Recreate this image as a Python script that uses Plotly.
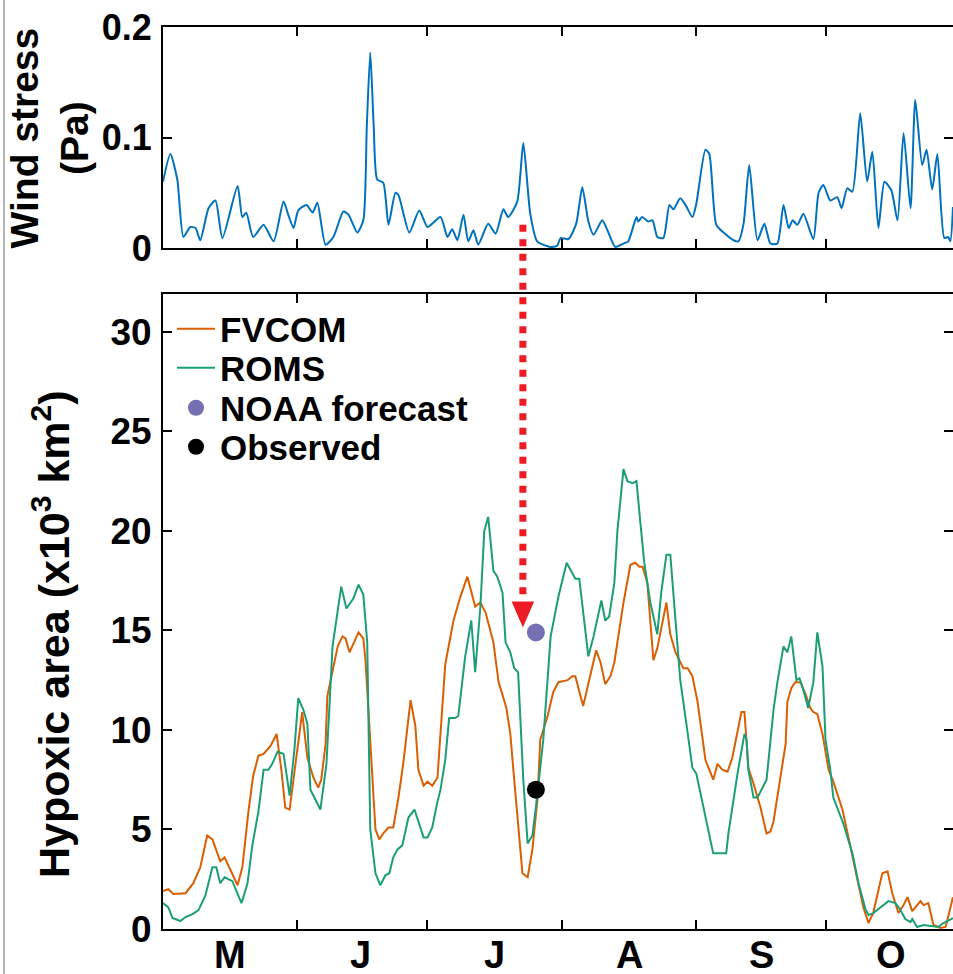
import plotly.graph_objects as go

# ---------------- data (day 0 = 1 May) ----------------
month_start_days = [31, 61, 92, 123, 153]
month_mid_days = [15.5, 45.5, 76.5, 107.5, 138, 168]
month_labels = ["M", "J", "J", "A", "S", "O"]

wind_day = [0, 1.7, 3.3, 4.7, 6.3, 7.5, 8.6, 10.5, 12.1, 13.7, 17.2, 18.3, 19.2, 20.8, 23.2,
            25.5, 27.8, 28.9, 30.1, 31.2, 33.1, 34.5, 35.6, 37.5, 39.3, 41.6, 42.8, 44.8, 46.2,
            47.0, 47.8, 48.6, 49.4, 50.8, 52.0, 53.6, 54.3, 56.8, 59.1, 61.0, 64.0, 65.6, 66.7,
            67.9, 69.3, 70.4, 71.6, 72.7, 75.0, 76.7, 78.5, 79.6, 81.7, 83.1, 84.7, 86.3, 89.3,
            90.9, 91.7, 93.5, 95.3, 96.7, 98.1, 99.3, 101.3, 102.5, 104.3, 106.2, 107.3, 109.2,
            109.6, 110.5, 111.9, 112.9, 114.0, 115.4, 116.8, 117.7, 119.3, 120.5, 122.1, 123.0,
            125.1, 126.0, 127.6, 129.3, 131.6, 132.7, 133.9, 135.2, 137.1, 138.7, 140.1, 141.7,
            143.1, 144.3, 145.2, 146.3, 147.7, 150.0, 151.2, 152.3, 153.9, 155.5, 156.5, 157.8,
            159.0, 160.8, 162.4, 163.6, 165.0, 166.4, 168.0, 169.4, 170.8, 172.4, 173.5, 175.1,
            176.1, 177.4, 178.6, 180.2, 181.1, 181.6, 182.2]
wind_stress = [0.060, 0.085, 0.062, 0.010, 0.019, 0.018, 0.007, 0.036, 0.043, 0.009, 0.056, 0.028,
               0.032, 0.010, 0.021, 0.006, 0.042, 0.030, 0.018, 0.034, 0.039, 0.032, 0.041, 0.003,
               0.010, 0.033, 0.030, 0.014, 0.025, 0.110, 0.177, 0.110, 0.062, 0.059, 0.021, 0.050,
               0.048, 0.014, 0.034, 0.019, 0.028, 0.010, 0.017, 0.007, 0.030, 0.006, 0.016, 0.003,
               0.022, 0.013, 0.035, 0.028, 0.042, 0.095, 0.031, 0.006, 0.001, 0.002, 0.009, 0.008,
               0.022, 0.055, 0.024, 0.012, 0.025, 0.016, 0.001, 0.004, 0.006, 0.028, 0.024, 0.028,
               0.024, 0.025, 0.010, 0.009, 0.039, 0.035, 0.045, 0.039, 0.028, 0.040, 0.089, 0.085,
               0.021, 0.014, 0.007, 0.006, 0.022, 0.075, 0.007, 0.022, 0.004, 0.004, 0.039, 0.018,
               0.025, 0.021, 0.031, 0.008, 0.050, 0.057, 0.043, 0.046, 0.036, 0.054, 0.051, 0.122,
               0.060, 0.087, 0.018, 0.060, 0.052, 0.025, 0.104, 0.036, 0.134, 0.075, 0.089, 0.053,
               0.085, 0.009, 0.010, 0.006, 0.037]

fvcom_day = [0, 1.2, 2.4, 4.0, 5.2, 7.0, 8.6, 10.2, 11.4, 13.2, 14.2, 17.2, 18.3, 19.7, 20.8, 22.0,
             23.2, 24.8, 26.2, 27.3, 28.2, 29.2, 32.1, 33.3, 34.7, 35.8, 36.5, 37.5, 37.9, 40.3,
             41.4, 42.1, 43.0, 45.1, 46.2, 46.7, 49.0, 49.9, 50.8, 52.0, 53.1, 54.3, 55.4, 57.1,
             58.2, 58.9, 60.1, 61.0, 62.1, 63.3, 65.1, 67.0, 68.6, 70.2, 72.0, 73.2, 74.4, 76.2,
             77.4, 79.2, 80.1, 80.8, 82.9, 84.1, 85.2, 86.4, 87.0, 88.7, 90.0, 91.2, 93.3, 94.4,
             95.1, 96.9, 99.9, 100.9, 102.0, 103.2, 104.1, 106.2, 107.8, 108.9, 109.9, 110.6,
             111.7, 113.1, 114.0, 116.1, 117.0, 118.2, 120.0, 121.0, 122.1, 123.3, 124.4, 125.1,
             126.9, 127.9, 129.0, 130.2, 131.3, 132.5, 133.4, 134.1, 135.0, 136.2, 137.8, 139.2,
             140.1, 140.8, 142.4, 143.6, 144.0, 144.9, 145.8, 147.0, 148.2, 149.3, 150.0, 150.9,
             152.1, 153.5, 154.6, 156.7, 158.1, 159.7, 161.5, 162.7, 163.8, 165.9, 167.1, 168.2,
             169.6, 170.8, 171.7, 172.8, 174.7, 175.4, 176.5, 177.7, 179.3, 180.5, 181.6, 182.2]
fvcom_area = [1.9, 2.0, 1.76, 1.8, 1.8, 2.3, 3.1, 4.7, 4.5, 3.4, 3.6, 2.2, 3.1, 5.9, 7.7, 8.7,
              8.8, 9.2, 9.8, 8.0, 6.1, 6.0, 10.9, 8.6, 7.6, 7.1, 7.5, 9.3, 11.7, 14.2,
              14.7, 14.6, 13.9, 14.9, 14.6, 13.5, 5.0, 4.5, 4.8, 5.1, 5.1, 6.6, 8.3, 11.5,
              10.2, 8.0, 7.2, 7.4, 7.2, 7.6, 13.3, 15.5, 16.7, 17.7, 16.2, 16.4, 15.9, 14.4,
              12.4, 11.1, 9.8, 8.0, 2.8, 2.6, 4.0, 6.6, 9.5, 10.7, 11.9, 12.4, 12.5, 12.7,
              12.7, 11.2, 14.0, 13.4, 12.3, 12.7, 13.4, 16.4, 18.3, 18.4, 18.2, 18.2,
              17.4, 13.5, 14.1, 16.4, 14.8, 13.9, 13.1, 13.1, 12.7, 11.4, 9.5, 8.5,
              7.5, 8.3, 8.0, 7.9, 8.6, 10.0, 10.9, 10.9, 8.1, 7.3, 6.1, 4.8,
              4.9, 5.4, 7.5, 9.3, 11.4, 12.1, 12.4, 12.4, 11.8, 11.1, 10.9, 10.8,
              9.8, 8.0, 7.4, 6.0, 4.6, 3.0, 1.1, 0.3, 0.8, 2.8, 2.9, 1.8,
              0.8, 1.2, 1.6, 0.9, 1.4, 1.2, 1.3, 0.2, 0.05, 0.1, 1.0, 1.6]

roms_day = [0, 1.2, 2.2, 4.0, 5.2, 6.8, 8.2, 9.8, 11.4, 12.3, 13.2, 14.2, 16.0, 18.1, 19.5, 20.6,
            22.0, 23.2, 24.3, 25.2, 26.4, 27.8, 29.2, 30.3, 31.2, 32.4, 33.3, 34.0, 36.3, 37.7,
            39.1, 40.2, 41.1, 42.3, 43.9, 45.1, 46.2, 47.1, 47.8, 49.0, 50.1, 51.3, 52.2, 53.1,
            54.1, 55.2, 56.6, 58.0, 58.9, 60.1, 61.0, 62.1, 63.3, 64.0, 65.1, 66.0, 67.4, 68.1,
            69.7, 71.1, 72.0, 73.2, 74.1, 75.0, 76.2, 77.1, 78.3, 79.0, 80.1, 81.0, 81.9, 83.1,
            84.1, 85.2, 86.1, 87.7, 89.4, 91.2, 93.1, 95.1, 96.0, 98.1, 99.3, 101.1, 102.0, 102.9,
            104.1, 104.8, 106.2, 107.1, 108.3, 109.2, 110.1, 111.0, 112.4, 114.0, 114.9, 116.1,
            117.0, 118.2, 119.3, 120.9, 122.1, 123.0, 124.6, 125.8, 126.9, 128.6, 129.9, 130.4,
            132.5, 134.1, 134.6, 135.0, 136.2, 137.1, 139.2, 140.8, 141.7, 143.1, 144.0, 144.9,
            146.1, 146.8, 147.7, 148.8, 150.0, 150.9, 152.1, 152.8, 153.9, 154.6, 155.8, 156.9,
            159.0, 160.4, 162.0, 162.7, 163.8, 165.5, 167.3, 168.9, 169.8, 171.2, 172.4, 172.8,
            173.9, 175.4, 177.4, 178.8, 180.0, 182.2]
roms_area = [1.3, 1.1, 0.55, 0.4, 0.6, 0.75, 0.95, 1.7, 3.1, 3.1, 2.3, 2.6, 2.4, 1.3, 2.3, 4.2,
             5.9, 8.0, 8.0, 8.3, 8.9, 8.8, 6.7, 9.0, 11.6, 11.0, 10.3, 7.0, 6.0, 8.3,
             14.2, 16.0, 17.2, 16.1, 16.6, 17.3, 16.8, 14.4, 5.0, 2.8, 2.2, 2.7, 2.8, 3.6,
             4.0, 4.2, 5.6, 6.0, 5.4, 4.6, 4.6, 5.1, 6.4, 7.0, 8.5, 10.6, 10.6, 10.7,
             13.7, 15.5, 12.9, 16.2, 20.0, 20.7, 18.0, 17.7, 16.9, 14.4, 13.9, 13.1, 12.9, 7.5,
             4.3, 4.7, 6.3, 9.5, 14.7, 16.7, 18.4, 17.6, 17.6, 13.7, 14.7, 16.5, 15.5, 15.7,
             17.4, 20.0, 23.1, 22.5, 22.4, 22.5, 20.4, 18.4, 16.4, 14.8, 16.9, 18.8,
             18.8, 15.7, 12.5, 10.0, 8.1, 7.8, 6.1, 4.8, 3.8, 3.8, 3.8, 4.8,
             7.8, 9.8, 9.5, 8.0, 6.6, 6.6, 7.5, 11.0, 12.4, 14.2, 13.9, 14.7,
             12.5, 12.6, 12.0, 11.1, 12.4, 14.9, 13.2, 9.5, 8.0, 6.6, 5.9, 5.3,
             3.8, 2.3, 1.0, 0.7, 0.8, 1.1, 1.4, 1.3, 1.05, 0.5, 0.35, 0.5,
             0.1, 0.2, 0.15, 0.1, 0.3, 0.55]

noaa_day = [86.0]
noaa_area = [14.9]
obs_day = [86.0]
obs_area = [7.0]

# arrow (wind event -> forecast)
arrow_day = 83.0
arrow_top_stress = 0.021
arrow_base_area = 16.45
arrow_tip_area = 15.15
arrow_half_days = 2.6

# ---------------- layout constants ----------------
X_MAX = 182.2
TOP_DOM = [0.755, 1.0]
BOT_DOM = [0.0, 0.704]
TOP_RANGE = [0, 0.2]
BOT_RANGE = [0, 31.9]
FONT = "Liberation Sans, Arial, Helvetica, sans-serif"
BLUE = "#0072BD"
ORANGE = "#D95F02"
GREEN = "#1B9E77"
PURPLE = "#7570B3"
RED = "#ED1C24"

W, H = 953, 974
ML, MR, MT, MB = 163, 0, 27, 45
PW, PH = W - ML - MR, H - MT - MB


def px_x(px):
    return (px - ML) / PW


def px_y(py):
    return 1 - (py - MT) / PH


def top_paper(v):
    return TOP_DOM[0] + (v - TOP_RANGE[0]) / (TOP_RANGE[1] - TOP_RANGE[0]) * (TOP_DOM[1] - TOP_DOM[0])


def bot_paper(v):
    return BOT_DOM[0] + (v - BOT_RANGE[0]) / (BOT_RANGE[1] - BOT_RANGE[0]) * (BOT_DOM[1] - BOT_DOM[0])


fig = go.Figure()

fig.add_trace(go.Scatter(x=wind_day, y=wind_stress, mode="lines",
                         line=dict(color=BLUE, width=2, shape="spline", smoothing=0.6),
                         xaxis="x", yaxis="y", showlegend=False, hoverinfo="skip"))
fig.add_trace(go.Scatter(x=fvcom_day, y=fvcom_area, mode="lines", name="FVCOM",
                         line=dict(color=ORANGE, width=2), xaxis="x2", yaxis="y2", legend="legend"))
fig.add_trace(go.Scatter(x=roms_day, y=roms_area, mode="lines", name="ROMS",
                         line=dict(color=GREEN, width=2), xaxis="x2", yaxis="y2", legend="legend2"))
fig.add_trace(go.Scatter(x=noaa_day, y=noaa_area, mode="markers", name="NOAA forecast",
                         marker=dict(color=PURPLE, size=18), xaxis="x2", yaxis="y2", legend="legend3"))
fig.add_trace(go.Scatter(x=obs_day, y=obs_area, mode="markers", name="Observed",
                         marker=dict(color="black", size=18), xaxis="x2", yaxis="y2", legend="legend4"))
# dummy traces so the right-hand tick-only axes are drawn
fig.add_trace(go.Scatter(x=[None], y=[None], xaxis="x", yaxis="y3", showlegend=False, hoverinfo="skip"))
fig.add_trace(go.Scatter(x=[None], y=[None], xaxis="x2", yaxis="y4", showlegend=False, hoverinfo="skip"))

axis_common = dict(showgrid=False, zeroline=False, ticks="inside", ticklen=9, tickwidth=2,
                   tickcolor="black", linecolor="black", linewidth=2)

xa = dict(axis_common, range=[0, X_MAX], tickvals=month_start_days, showticklabels=False,
          showline=True, mirror="ticks", domain=[0, 1])
fig.update_layout(
    xaxis=dict(xa, anchor="y"),
    xaxis2=dict(xa, anchor="y2"),
    yaxis=dict(axis_common, domain=TOP_DOM, range=TOP_RANGE, tickvals=[0, 0.1, 0.2],
               ticktext=["0", "0.1", "0.2"], showline=True, anchor="x", ticklabelstandoff=2,
               tickfont=dict(family=FONT, size=36, color="black", weight="bold")),
    yaxis2=dict(axis_common, domain=BOT_DOM, range=BOT_RANGE, tickvals=[0, 5, 10, 15, 20, 25, 30],
                showline=True, anchor="x2", ticklabelstandoff=2,
                tickfont=dict(family=FONT, size=37, color="black", weight="bold")),
    yaxis3=dict(axis_common, overlaying="y", side="right", anchor="x", range=TOP_RANGE,
                tickvals=[0, 0.1, 0.2], showticklabels=False, showline=False),
    yaxis4=dict(axis_common, overlaying="y2", side="right", anchor="x2", range=BOT_RANGE,
                tickvals=[0, 5, 10, 15, 20, 25, 30], showticklabels=False, showline=False),
)

# legends (one per entry so spacing matches)
legend_rows_px = [329, 368, 408, 447]
leg_common = dict(x=px_x(172), xanchor="left", yanchor="middle", bgcolor="rgba(0,0,0,0)",
                  font=dict(family=FONT, size=35, color="black", weight="bold"),
                  itemsizing="trace", itemwidth=38, borderwidth=0)
fig.update_layout(
    legend=dict(leg_common, y=px_y(legend_rows_px[0])),
    legend2=dict(leg_common, y=px_y(legend_rows_px[1])),
    legend3=dict(leg_common, y=px_y(legend_rows_px[2])),
    legend4=dict(leg_common, y=px_y(legend_rows_px[3])),
)

annotations = []
for d, lab in zip(month_mid_days, month_labels):
    annotations.append(dict(x=d, y=px_y(955), xref="x2", yref="paper", text=lab, showarrow=False,
                            xanchor="center", yanchor="middle", height=36, valign="middle",
                            font=dict(family=FONT, size=38, color="black", weight="bold")))
annotations.append(dict(x=px_x(50), y=top_paper(0.1), xref="paper", yref="paper",
                        text="Wind stress<br>(Pa)", textangle=-90, showarrow=False,
                        xanchor="center", yanchor="middle",
                        font=dict(family=FONT, size=39, color="black", weight="bold")))
annotations.append(dict(x=px_x(51), y=px_y(634), xref="paper", yref="paper",
                        text="Hypoxic area (x10<sup>3</sup> km<sup>2</sup>)", textangle=-90,
                        showarrow=False, xanchor="center", yanchor="middle",
                        font=dict(family=FONT, size=43, color="black", weight="bold")))

shapes = [
    # dotted red arrow shaft from wind event to forecast
    dict(type="line", xref="paper", yref="paper",
         x0=arrow_day / X_MAX, x1=arrow_day / X_MAX,
         y0=top_paper(arrow_top_stress), y1=bot_paper(arrow_base_area),
         line=dict(color=RED, width=7, dash="7px,7.5px")),
    # arrow head
    dict(type="path", xref="x2", yref="y2", fillcolor=RED, line=dict(width=0),
         path=f"M {arrow_day - arrow_half_days},{arrow_base_area} L {arrow_day + arrow_half_days},{arrow_base_area} "
              f"L {arrow_day},{arrow_tip_area} Z"),
    # thin grey frame line at left edge of the image
    dict(type="line", xref="paper", yref="paper", x0=px_x(4), x1=px_x(4), y0=px_y(H), y1=px_y(0),
         line=dict(color="#9a9a9a", width=1.5)),
]

fig.update_layout(
    width=W, height=H, margin=dict(l=ML, r=MR, t=MT, b=MB, pad=0),
    paper_bgcolor="white", plot_bgcolor="white",
    annotations=annotations, shapes=shapes,
    font=dict(family=FONT, color="black"),
)

fig.write_html("out.html", config={"displayModeBar": False},
               post_script="document.body.style.margin='0';document.body.style.overflow='hidden';")
